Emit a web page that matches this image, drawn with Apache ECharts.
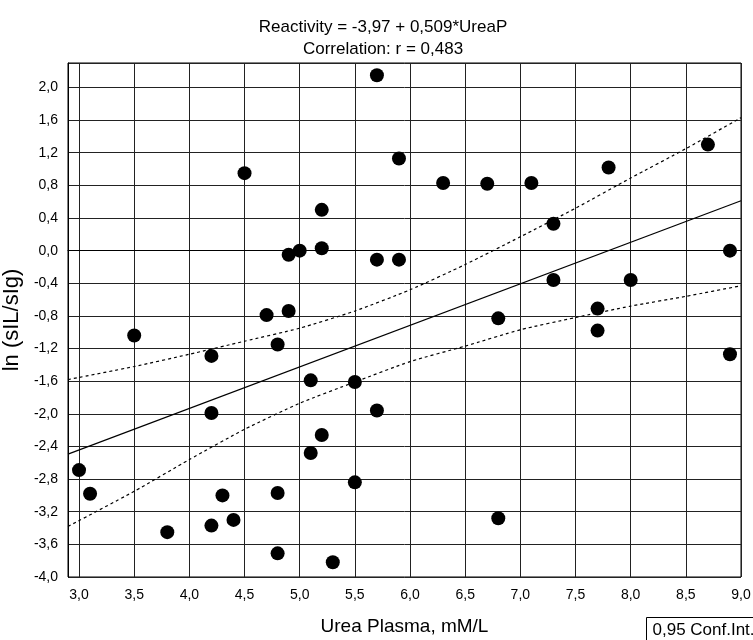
<!DOCTYPE html>
<html>
<head>
<meta charset="utf-8">
<script src="https://cdn.jsdelivr.net/npm/echarts@6/dist/echarts.min.js"></script>
<style>
  html, body { margin: 0; padding: 0; background: #fff; }
  #chart { width: 753px; height: 640px; }
</style>
</head>
<body>
<div id="chart"></div>
<script>
// Urea plasma (mM/L) against ln(sIL/sIg)
const ureaPlasma = [3.0, 3.1, 3.5, 3.8, 4.2, 4.2, 4.2, 4.3, 4.4, 4.5, 4.7, 4.8, 4.8, 4.8, 4.9, 4.9, 5.0,
  5.1, 5.1, 5.2, 5.2, 5.2, 5.3, 5.5, 5.5, 5.7, 5.7, 5.7, 5.9, 5.9, 6.3, 6.7, 6.8, 6.8, 7.1, 7.3, 7.3,
  7.7, 7.7, 7.8, 8.0, 8.7, 8.9, 8.9];
const reactivity = [-2.69, -2.98, -1.04, -3.45, -1.29, -1.99, -3.37, -3.00, -3.30, 0.95, -0.79, -1.15, -2.97, -3.71, -0.05, -0.74, 0.00,
  -1.59, -2.48, 0.50, 0.03, -2.26, -3.82, -1.61, -2.84, 2.15, -0.11, -1.96, 1.13, -0.11, 0.83, 0.82, -0.83, -3.28, 0.83, 0.33, -0.36,
  -0.71, -0.98, 1.02, -0.36, 1.30, 0.00, -1.27];

// Fitted line: Reactivity = -3.97 + 0.509 * UreaP
const intercept = -3.97;
const slope = 0.509;

// 0.95 confidence band
const bandX = [2.9, 3.5, 4.0, 4.5, 5.0, 5.5, 6.0, 6.5, 7.0, 7.5, 8.0, 8.5, 9.0];
const bandUpper = [-1.58, -1.42, -1.27, -1.11, -0.95, -0.74, -0.48, -0.17, 0.17, 0.52, 0.89, 1.25, 1.63];
const bandLower = [-3.38, -2.95, -2.56, -2.19, -1.87, -1.61, -1.36, -1.17, -0.97, -0.82, -0.68, -0.56, -0.43];

const xTicks = [3.0, 3.5, 4.0, 4.5, 5.0, 5.5, 6.0, 6.5, 7.0, 7.5, 8.0, 8.5, 9.0];
const xMin = 2.9, xMax = 9.0;
const yMin = -4.0, yMax = 2.3, yStep = 0.4;

const fmt = v => v.toFixed(1).replace('.', ',');
const FONT = '"Liberation Sans", Arial, sans-serif';

const points = ureaPlasma.map((x, i) => [x, reactivity[i]]);
const fitLine = [xMin, xMax].map(x => [x, intercept + slope * x]);
const upper = bandX.map((x, i) => [x, bandUpper[i]]);
const lower = bandX.map((x, i) => [x, bandLower[i]]);

const chart = echarts.init(document.getElementById('chart'), null, { renderer: 'canvas' });
chart.setOption({
  animation: false,
  backgroundColor: '#fff',
  textStyle: { fontFamily: FONT },
  title: {
    text: 'Reactivity = -3,97 + 0,509*UreaP\nCorrelation: r = 0,483',
    left: 378, top: 11, textAlign: 'center',
    textStyle: { fontSize: 17, fontWeight: 'normal', color: '#000', lineHeight: 22, fontFamily: FONT }
  },
  grid: {
    left: 68, right: 12, top: 63, bottom: 63,
    outerBoundsMode: 'none', containLabel: false,
    show: true, borderColor: '#000', borderWidth: 1
  },
  xAxis: {
    type: 'value', min: xMin, max: xMax,
    name: 'Urea Plasma, mM/L', nameLocation: 'middle', nameGap: 40,
    nameTextStyle: { fontSize: 19, color: '#000', fontFamily: FONT },
    axisLine: { lineStyle: { color: '#000' } },
    axisTick: { show: false, customValues: xTicks },
    axisLabel: { customValues: xTicks, formatter: fmt, fontSize: 14, color: '#000', margin: 11, fontFamily: FONT },
    splitLine: { show: true, lineStyle: { color: '#222', width: 1 } }
  },
  yAxis: {
    type: 'value', min: yMin, max: yMax, interval: yStep,
    name: 'ln (sIL/sIg)', nameLocation: 'middle', nameGap: 37, nameRotate: 90,
    nameTextStyle: { fontSize: 22, color: '#000', fontFamily: FONT },
    axisLine: { lineStyle: { color: '#000' } },
    axisTick: { show: false },
    axisLabel: { formatter: fmt, fontSize: 14, color: '#000', margin: 10, showMaxLabel: false, fontFamily: FONT },
    splitLine: { show: true, lineStyle: { color: '#222', width: 1 } }
  },
  series: [
    {
      type: 'line', data: fitLine, symbol: 'none', silent: true, z: 3,
      lineStyle: { color: '#000', width: 1.2 }
    },
    {
      type: 'line', data: upper, symbol: 'none', silent: true, smooth: 0.2, z: 3,
      lineStyle: { color: '#000', width: 1.2, type: [3, 3] }
    },
    {
      type: 'line', data: lower, symbol: 'none', silent: true, smooth: 0.2, z: 3,
      lineStyle: { color: '#000', width: 1.2, type: [3, 3] }
    },
    {
      type: 'scatter', data: points, symbol: 'circle', symbolSize: 14, z: 5,
      itemStyle: { color: '#000', opacity: 1 }
    }
  ],
  graphic: [
    {
      type: 'group', left: 646, top: 617,
      children: [
        { type: 'rect', shape: { x: 0, y: 0, width: 120, height: 26 },
          style: { fill: '#fff', stroke: '#000', lineWidth: 1 } },
        { type: 'text', x: 6, y: 13,
          style: { text: '0,95 Conf.Int.', font: '17px ' + FONT, fill: '#000', textVerticalAlign: 'middle' } }
      ]
    }
  ]
});
</script>
</body>
</html>
